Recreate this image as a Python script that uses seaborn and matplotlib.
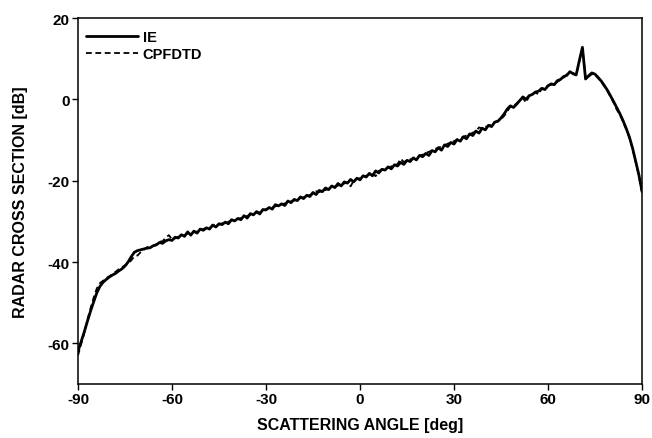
import numpy as np
import pandas as pd
import seaborn as sns
from matplotlib import pyplot as plt

# Scattering angle grid (deg)
angle = list(range(-90, 91))

# IE solution (dB)
ie = [
    -62.0, -59.6, -57.2, -54.6, -52.1, -49.8, -47.6, -46.0, -45.0, -44.3,
    -43.7, -43.2, -42.8, -42.2, -41.7, -41.0, -40.0, -38.7, -37.6, -37.2,
    -37.0, -36.8, -36.6, -36.5, -36.0, -35.8, -35.2, -35.4, -34.8, -34.5,
    -34.7, -33.9, -34.1, -33.3, -33.7, -32.6, -33.4, -32.4, -32.9, -31.9,
    -32.2, -31.6, -31.9, -30.9, -31.4, -30.6, -30.8, -30.2, -30.6, -29.6,
    -29.9, -29.3, -29.6, -28.6, -29.2, -28.1, -28.4, -27.6, -28.2, -27.1,
    -27.2, -26.6, -27.0, -25.9, -26.2, -25.7, -26.1, -25.0, -25.4, -24.6,
    -24.9, -24.0, -24.4, -23.6, -23.9, -22.9, -23.4, -22.4, -22.7, -21.8,
    -22.2, -21.3, -21.7, -20.7, -21.3, -20.3, -20.6, -19.7, -20.3, -19.4,
    -19.8, -18.8, -19.1, -18.2, -18.8, -17.6, -18.1, -17.2, -17.4, -16.6,
    -17.1, -16.1, -16.4, -15.5, -16.0, -15.0, -15.3, -14.4, -14.9, -13.8,
    -14.1, -13.3, -13.8, -12.6, -12.9, -11.9, -12.5, -11.2, -11.6, -10.6,
    -11.0, -9.9, -10.3, -9.2, -9.7, -8.5, -8.9, -7.8, -8.3, -7.1,
    -7.5, -6.4, -6.7, -5.6, -5.4, -4.6, -3.6, -2.4, -1.6, -2.0,
    -1.2, -0.3, 0.6, 0.0, 0.9, 1.2, 1.8, 2.0, 2.7, 2.4,
    3.3, 3.8, 3.6, 4.6, 4.9, 5.6, 5.9, 6.8, 6.3, 6.0,
    9.5, 12.8, 5.0, 5.8, 6.5, 6.2, 5.4, 4.5, 3.4, 2.2,
    0.8, -0.6, -2.1, -3.6, -5.3, -7.2, -9.3, -12.0, -15.2, -18.5,
    -22.5,
]

# CPFDTD solution (dB)
cpfdtd = [
    -63.0, -60.2, -57.5, -54.2, -51.4, -48.8, -46.5, -45.2, -44.6, -44.0,
    -43.5, -43.0, -42.4, -41.8, -41.3, -40.8, -40.4, -39.6, -38.6, -38.4,
    -37.6, -37.0, -36.4, -36.2, -36.1, -35.6, -35.0, -34.9, -34.0, -33.4,
    -34.4, -34.2, -33.8, -33.6, -33.4, -33.0, -32.9, -32.7, -32.5, -32.1,
    -31.9, -31.6, -31.5, -31.2, -30.8, -30.8, -30.5, -30.3, -30.1, -29.8,
    -29.6, -29.4, -29.2, -28.9, -28.7, -28.4, -28.2, -27.9, -27.7, -27.4,
    -27.0, -26.8, -26.6, -26.3, -26.1, -25.8, -25.6, -25.4, -25.1, -24.9,
    -24.6, -24.3, -24.1, -23.8, -23.5, -23.3, -22.6, -22.8, -22.5, -22.3,
    -22.0, -21.7, -21.5, -21.2, -20.9, -20.7, -20.4, -21.4, -20.0, -19.6,
    -19.4, -19.1, -18.8, -18.5, -18.2, -18.9, -17.6, -17.3, -17.0, -16.8,
    -16.5, -16.2, -15.9, -14.6, -15.4, -15.1, -14.8, -14.5, -14.1, -13.9,
    -13.6, -13.2, -12.9, -12.6, -12.2, -11.9, -11.6, -11.3, -10.9, -10.6,
    -10.3, -9.9, -9.6, -9.2, -8.9, -8.6, -8.2, -7.9, -6.9, -7.2,
    -6.8, -6.5, -6.1, -5.7, -5.3, -4.9, -4.1, -3.0, -1.8, -1.6,
    -1.0, -0.2, 0.3, -0.8, 0.8, 1.3, 1.7, 1.2, 2.6, 2.8,
    3.4, 3.6, 3.9, 4.3, 4.8, 5.3, 6.1, 6.5, 6.5, 6.0,
    9.2, 12.6, 5.3, 5.6, 6.2, 6.0, 5.2, 4.3, 3.2, 2.0,
    0.6, -0.9, -2.6, -3.8, -5.6, -7.4, -9.5, -12.2, -15.4, -18.8,
    -23.0,
]

df = pd.DataFrame({"angle": angle, "IE": ie, "CPFDTD": cpfdtd})

sns.set_theme(style="ticks")
plt.rcParams["font.family"] = ["Liberation Sans", "DejaVu Sans"]
plt.rcParams["font.weight"] = "bold"
plt.rcParams["axes.unicode_minus"] = False
plt.rcParams["text.color"] = "black"
plt.rcParams["axes.labelcolor"] = "black"

fig = plt.figure(figsize=(6.52, 4.39), dpi=100)
ax = fig.add_axes([0.1196, 0.123, 0.865, 0.8337])

sns.lineplot(x="angle", y="CPFDTD", data=df, ax=ax, color="black",
             linewidth=1.3, linestyle=(0, (3.2, 2.0)), label="CPFDTD")
sns.lineplot(x="angle", y="IE", data=df, ax=ax, color="black",
             linewidth=2.0, label="IE")

ax.set_xlim(-90, 90)
ax.set_ylim(-70, 20)
ax.set_xticks([-90, -60, -30, 0, 30, 60, 90])
ax.set_yticks([-60, -40, -20, 0, 20])
ax.tick_params(direction="out", length=4, width=1.0, labelsize=11, pad=2,
               colors="black")
for lab in ax.get_xticklabels() + ax.get_yticklabels():
    lab.set_fontweight("bold")
for s in ax.spines.values():
    s.set_visible(True)
    s.set_linewidth(1.1)
    s.set_color("black")

ax.set_xlabel("SCATTERING ANGLE [deg]", fontsize=11.5, fontweight="bold",
              labelpad=8, color="black")
ax.set_ylabel("RADAR CROSS SECTION [dB]", fontsize=11.5, fontweight="bold",
              labelpad=14, color="black")

handles, labels = ax.get_legend_handles_labels()
leg = ax.legend(handles[::-1], labels[::-1], loc="upper left", bbox_to_anchor=(-0.008, 1.0),
                frameon=False, handlelength=3.6, handletextpad=0.3, labelspacing=0.2,
                borderaxespad=0.45, prop={"weight": "bold", "size": 10.5})
for t in leg.get_texts():
    t.set_color("black")

plt.savefig("out.png", dpi=100)
